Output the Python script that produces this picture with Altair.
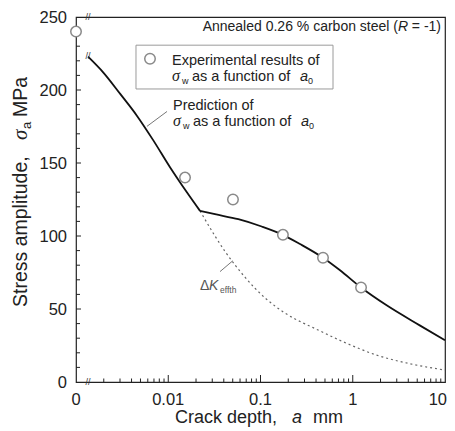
import altair as alt
import pandas as pd

FONT = "Liberation Sans"
SERIF = "Liberation Serif"
W, H = 369, 365

# ---- data (a in mm, stress in MPa); a = 0.001 is the "0" of the broken axis
exp_a = [0.001, 0.0152, 0.0503, 0.175, 0.476, 1.23]
exp_s = [240, 140, 125, 100.8, 85.1, 64.7]

pred1_a = [0.00135, 0.00198, 0.0030, 0.00455, 0.00689, 0.01045, 0.01585, 0.0221]
pred1_s = [222.8, 211.9, 197.5, 182.6, 165.5, 147.1, 130.1, 117.2]
pred2_a = [0.0221, 0.0321, 0.0575, 0.103, 0.175, 0.268, 0.476, 0.728, 1.23, 2.33, 5.32, 10]
pred2_s = [117.2, 114.9, 111.5, 106.5, 100.8, 94.5, 85.1, 76.5, 64.7, 52.5, 38.8, 28.6]

dk_a = [0.0221, 0.0321, 0.0412, 0.0529, 0.0679, 0.0872, 0.1119, 0.1437,
        0.1843, 0.2366, 0.3037, 0.3899, 0.79, 1.818, 4.17, 10]
dk_s = [117.2, 100.0, 89.5, 80.2, 71.8, 64.2, 57.6, 52.0,
        47.2, 43.2, 39.8, 36.6, 27.5, 18.4, 12.5, 8.2]

# tick labels and tick positions
x_label_values = [0.001, 0.01, 0.1, 1]
x_labels = ["0", "0.01", "0.1", "1"]
x_last_value = [10]
x_last_label = ["10"]
y_label_values = [0, 50, 100, 150, 200, 250]
y_labels = ["0", "50", "100", "150", "200", "250"]
x_major = [0.01, 0.1, 1]
x_minor = [m * 10.0 ** e for e in (-3, -2, -1, 0) for m in range(2, 10)]
y_major = [50, 100, 150, 200]
y_minor = [v for v in range(10, 250, 10) if v % 50]

# annotation anchors (data coordinates)
legend_box = {"a": 0.00447, "a2": 0.611, "s": 230.7, "s2": 200.7}
legend_circle = {"a": 0.00634, "s": 221.4}
legend_line1 = {"a": 0.01098, "s": 217.3}
legend_line2 = {"a": 0.01098, "s": 206.4}
pred_line1 = {"a": 0.01125, "s": 186.0}
pred_line2 = {"a": 0.01125, "s": 175.1}
pred_leader = {"a": 0.00588, "s": 175.1, "a2": 0.0097, "s2": 185.3}
dk_label = {"a": 0.0221, "s": 62.7}
dk_leader = {"a": 0.0364, "s": 75.6, "a2": 0.05, "s2": 83.0}
title_anchor = {"a": 10, "s": 240.5}
break_a = 0.00135
break_s = [0, 250, 223.5]

xs = alt.Scale(type="log", domain=[0.001, 10], nice=False)
ys = alt.Scale(domain=[0, 250], nice=False, zero=False)


def xe(f="a"):
    return alt.X(f"{f}:Q", scale=xs, axis=None)


def ye(f="s"):
    return alt.Y(f"{f}:Q", scale=ys, axis=None)


def piece(text, pos=None, px=None, py=None, size=14.5, dx=0, dy=0, font=FONT,
          italic=False, color="#222", align="left", baseline="alphabetic", angle=0):
    df = pd.DataFrame({"t": [text], "a": [pos["a"] if pos else 1], "s": [pos["s"] if pos else 0]})
    kw = dict(font=font, fontSize=size, dx=dx, dy=dy, color=color, align=align, baseline=baseline)
    if italic:
        kw["fontStyle"] = "italic"
    if angle:
        kw["angle"] = angle
    ch = alt.Chart(df).mark_text(**kw)
    if pos:
        return ch.encode(x=xe(), y=ye(), text="t:N")
    return ch.encode(x=alt.value(px), y=alt.value(py), text="t:N")


def xticks(vals, length):
    return alt.Chart(pd.DataFrame({"a": vals})).mark_rule(color="#222", strokeWidth=1).encode(
        x=xe(), y=alt.value(H), y2=alt.value(H - length))


def yticks(vals, length):
    return alt.Chart(pd.DataFrame({"s": vals})).mark_rule(color="#222", strokeWidth=1).encode(
        y=ye(), x=alt.value(0), x2=alt.value(length))


x_tick_labels = alt.Chart(pd.DataFrame({"a": x_label_values, "t": x_labels})).mark_text(
    font=FONT, fontSize=16.5, color="#222", align="center", baseline="alphabetic").encode(
    x=xe(), y=alt.value(H + 23), text="t:N")

x_last_tick_label = alt.Chart(pd.DataFrame({"a": x_last_value, "t": x_last_label})).mark_text(
    font=FONT, fontSize=16.5, color="#222", align="right", baseline="alphabetic", dx=2).encode(
    x=xe(), y=alt.value(H + 23), text="t:N")

y_tick_labels = alt.Chart(pd.DataFrame({"s": y_label_values, "t": y_labels})).mark_text(
    font=FONT, fontSize=16.5, color="#222", align="right", baseline="middle", dy=1).encode(
    y=ye(), x=alt.value(-9), text="t:N")

box = alt.Chart(pd.DataFrame([legend_box])).mark_rect(
    fill="white", stroke="#9a9a9a", strokeWidth=1).encode(
    x=xe(), x2=alt.X2("a2:Q"), y=ye(), y2=alt.Y2("s2:Q"))

dotted = alt.Chart(pd.DataFrame({"a": dk_a, "s": dk_s})).mark_line(
    color="#666", strokeWidth=1.2, strokeDash=[2, 3], interpolate="monotone").encode(x=xe(), y=ye())

pred_df = pd.DataFrame({"a": pred1_a + pred2_a, "s": pred1_s + pred2_s,
                        "seg": ["1"] * len(pred1_a) + ["2"] * len(pred2_a)})
solid = alt.Chart(pred_df).mark_line(color="#111", strokeWidth=1.8, interpolate="monotone").encode(
    x=xe(), y=ye(), detail="seg:N")

leaders = alt.Chart(pd.DataFrame([pred_leader, dk_leader])).mark_rule(color="#777", strokeWidth=1).encode(
    x=xe(), y=ye(), x2=alt.X2("a2:Q"), y2=alt.Y2("s2:Q"))

circ_df = pd.DataFrame({"a": exp_a + [legend_circle["a"]], "s": exp_s + [legend_circle["s"]]})
circles = alt.Chart(circ_df).mark_point(shape="circle", size=110, filled=True, fill="white",
                                         stroke="#8a8a8a", strokeWidth=1.5, opacity=1).encode(x=xe(), y=ye())

breaks = alt.Chart(pd.DataFrame({"a": [break_a] * len(break_s), "s": break_s, "t": ["//"] * len(break_s)})).mark_text(
    font=FONT, fontSize=9, color="#333", align="center", baseline="middle").encode(x=xe(), y=ye(), text="t:N")

texts = [
    # header, right aligned
    piece(" = -1)", title_anchor, size=14, dx=-4, align="right"),
    piece("R", title_anchor, size=14, dx=-37, align="right", italic=True),
    piece("Annealed 0.26 % carbon steel (", title_anchor, size=14, dx=-47, align="right"),
    # legend
    piece("Experimental results of", legend_line1),
    piece("\u03c3", legend_line2, size=16, font=SERIF, italic=True),
    piece("w", legend_line2, size=9, dx=10, dy=3),
    piece("as a function of", legend_line2, dx=20),
    piece("a", legend_line2, dx=128, italic=True),
    piece("0", legend_line2, size=9, dx=136, dy=3),
    # prediction label
    piece("Prediction of", pred_line1),
    piece("\u03c3", pred_line2, size=16, font=SERIF, italic=True),
    piece("w", pred_line2, size=9, dx=10, dy=3),
    piece("as a function of", pred_line2, dx=20),
    piece("a", pred_line2, dx=128, italic=True),
    piece("0", pred_line2, size=9, dx=136, dy=3),
    # Delta K label
    piece("\u0394", dk_label, size=14, color="#555"),
    piece("K", dk_label, size=14, dx=9, italic=True, color="#555"),
    piece("effth", dk_label, size=8.5, dx=20, dy=3, color="#555"),
    # x title
    piece("Crack depth,", px=99, py=H + 41, size=18),
    piece("a", px=99, py=H + 41, size=18, dx=117, italic=True),
    piece("mm", px=99, py=H + 41, size=18, dx=138),
    # y title (rotated)
    piece("Stress amplitude,", px=-49, py=290, size=19.5, angle=270),
    piece("\u03c3", px=-49, py=290, size=21, angle=270, dx=167, font=SERIF, italic=True),
    piece("a", px=-49, py=290, size=13, angle=270, dx=178, dy=4),
    piece("MPa", px=-49, py=290, size=19.5, angle=270, dx=190),
]

chart = alt.layer(
    box,
    xticks(x_minor, 3.5), xticks(x_major, 7), yticks(y_minor, 4), yticks(y_major, 5),
    x_tick_labels, x_last_tick_label, y_tick_labels,
    dotted, solid, leaders, circles, breaks, *texts,
).properties(
    width=W, height=H,
    autosize=alt.AutoSizeParams(type="none"),
    padding={"left": 68, "top": 9, "right": 2, "bottom": 46},
    background="white",
).configure_view(stroke="#222", strokeWidth=1.2)

chart.save("out.html", embed_options={"renderer": "svg", "actions": False})
